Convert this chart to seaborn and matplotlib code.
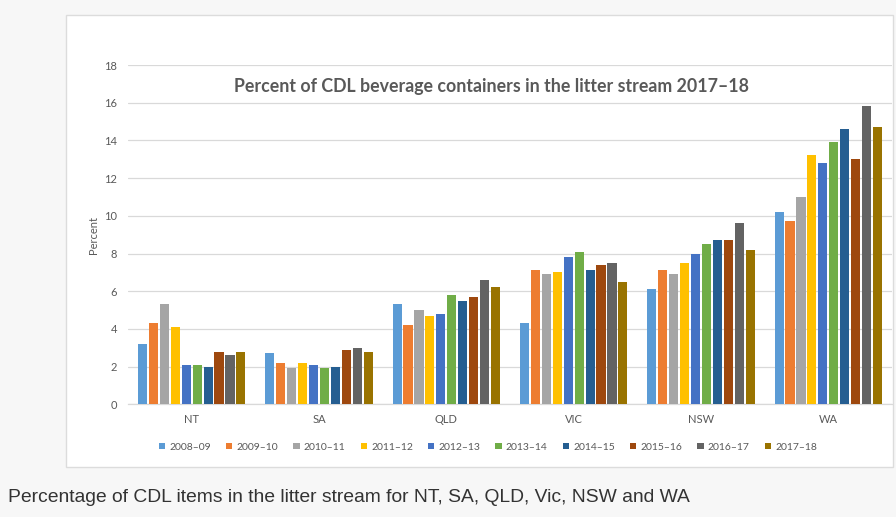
import numpy as np
import pandas as pd
import seaborn as sns
import matplotlib
matplotlib.use("Agg")
import matplotlib.pyplot as plt
from matplotlib.patches import Rectangle, Patch

# Share of CDL beverage containers in the litter stream, by state and year
states = ["NT", "SA", "QLD", "VIC", "NSW", "WA"]
years = ["2008\u201309", "2009\u201310", "2010\u201311", "2011\u201312", "2012\u201313",
         "2013\u201314", "2014\u201315", "2015\u201316", "2016\u201317", "2017\u201318"]

nt = [3.2, 4.3, 5.3, 4.1, 2.1, 2.1, 2.0, 2.8, 2.6, 2.8]
sa = [2.7, 2.2, 1.9, 2.2, 2.1, 1.9, 2.0, 2.9, 3.0, 2.8]
qld = [5.3, 4.2, 5.0, 4.7, 4.8, 5.8, 5.5, 5.7, 6.6, 6.2]
vic = [4.3, 7.1, 6.9, 7.0, 7.8, 8.1, 7.1, 7.4, 7.5, 6.5]
nsw = [6.1, 7.1, 6.9, 7.5, 8.0, 8.5, 8.7, 8.7, 9.6, 8.2]
wa = [10.2, 9.7, 11.0, 13.2, 12.8, 13.9, 14.6, 13.0, 15.8, 14.7]

year_colors = ["#5B9BD5", "#ED7D31", "#A5A5A5", "#FFC000", "#4472C4",
               "#70AD47", "#255E91", "#9E480E", "#636363", "#997300"]

y_ticks = [0, 2, 4, 6, 8, 10, 12, 14, 16, 18]

rows = []
for state, vals in zip(states, [nt, sa, qld, vic, nsw, wa]):
    for yr, v in zip(years, vals):
        rows.append({"state": state, "year": yr, "pct": v})
df = pd.DataFrame(rows)

sns.set_style("white")
plt.rcParams["font.family"] = ["Lato", "DejaVu Sans"]

W, H = 896, 517
fig = plt.figure(figsize=(W / 100, H / 100), dpi=100)
fig.patch.set_facecolor("#f7f7f7")

# white chart panel behind the axes
fig.patches.append(Rectangle((66 / W, 1 - 467 / H), (893 - 66) / W, (467 - 15) / H,
                             transform=fig.transFigure, facecolor="white",
                             edgecolor="#dcdcdc", linewidth=1.0, zorder=-10))

ax_left, ax_right = 128, 892
ax_top, ax_bot = 65, 404.3
ax = fig.add_axes([ax_left / W, 1 - ax_bot / H, (ax_right - ax_left) / W, (ax_bot - ax_top) / H])
ax.set_facecolor("none")

sns.barplot(data=df, x="state", y="pct", hue="year", order=states, hue_order=years,
            palette=year_colors, width=0.86, gap=0.17, saturation=1,
            legend=False, ax=ax, linewidth=0, zorder=3)

ax.set_ylim(0, 18)
ax.set_xlim(-0.5, 5.5)
ax.set_yticks(y_ticks)
ax.yaxis.grid(True, color="#d9d9d9", linewidth=0.9)
ax.set_axisbelow(True)
for side in ["top", "right", "left"]:
    ax.spines[side].set_visible(False)
ax.spines["bottom"].set_color("#d9d9d9")
ax.spines["bottom"].set_linewidth(0.9)
ax.tick_params(axis="y", length=0, pad=8, labelsize=8, labelcolor="#595959")
ax.tick_params(axis="x", length=0, pad=7, labelsize=8, labelcolor="#595959")
ax.set_xlabel("")
ax.set_ylabel("Percent", fontsize=8, color="#595959", labelpad=3.5)

fig.text(491 / W, 1 - 86.5 / H,
         "Percent of CDL beverage containers in the litter stream 2017\u201318",
         ha="center", va="center", fontsize=12.8, fontweight="bold", color="#595959")

handles = [Patch(facecolor=c, edgecolor="none") for c in year_colors]
fig.legend(handles, years, loc="center", bbox_to_anchor=(488 / W, 1 - 447 / H),
           ncol=10, frameon=False, fontsize=7.5, labelcolor="#595959",
           handlelength=0.6, handleheight=0.6, handletextpad=0.4,
           columnspacing=1.45)

fig.text(8 / W, 1 - 497 / H,
         "Percentage of CDL items in the litter stream for NT, SA, QLD, Vic, NSW and WA",
         ha="left", va="center", fontsize=13.9, color="#333333",
         family=["Liberation Sans", "DejaVu Sans"])

fig.savefig("out.png", dpi=100, facecolor=fig.get_facecolor())
